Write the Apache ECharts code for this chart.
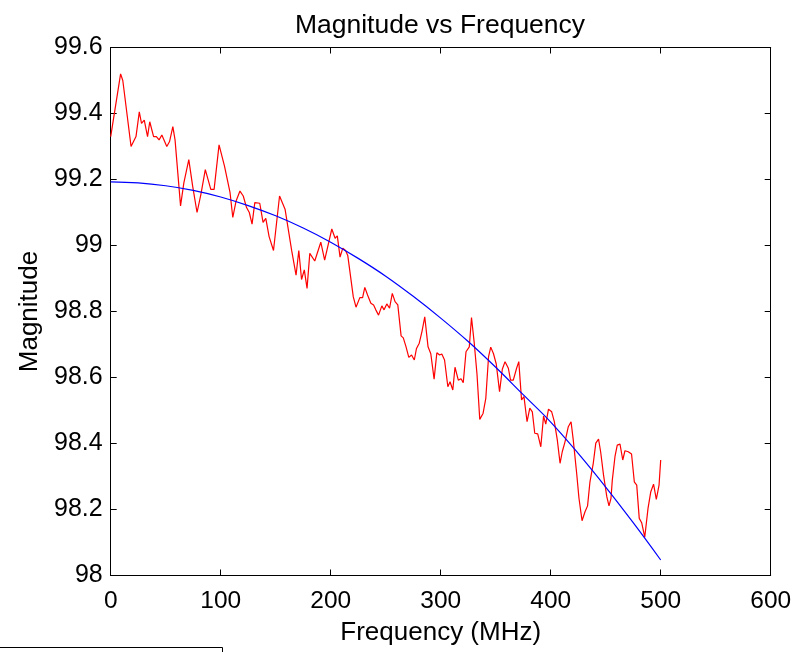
<!DOCTYPE html>
<html>
<head>
<meta charset="utf-8">
<script src="https://cdn.jsdelivr.net/npm/echarts@6/dist/echarts.min.js"></script>
<style>
html,body{margin:0;padding:0;background:#fff;}
#chart{width:807px;height:652px;}
</style>
</head>
<body>
<div id="chart"></div>
<script>
// Measured (red) series: frequency (MHz) and magnitude
const measFreq = [0,9,11,18.5,23,26,28,30.5,33.5,35.5,39,41.5,44,46.5,51,53.5,56.5,58.5,63.5,66.5,71,74.5,78.5,82,86,91,94,98.5,103.5,108.5,111,114,117.5,120.5,123.5,126,128.5,131,135.5,138.5,141,144,148,153.5,158.5,164.5,168.5,171,173.5,176,178.5,181,185.5,191,194.5,201,204,206,208.5,211,213.5,215.5,220.5,223,226.5,229,231,233.5,236.5,239,241,243.5,246.5,248.5,251,253.5,256,258.5,261,264,266,268.5,271,273.5,276,278,280.5,283,285.5,288.5,291,294,296.5,299,301,303.5,306.5,308.5,311,313,316,318.5,320.5,323,326,328,330.5,333,335.5,338.5,341,343.5,345.5,348,350.5,353.5,356,358.5,361.5,363.5,366,369,371,373.5,375.7,378.5,381,383.3,385.5,388.2,391,393.5,395.5,398,400.9,403.3,406,408.5,410.5,413,416,418.5,420.5,423.6,425.7,428.5,431.2,433.5,435.7,438.7,441,443.5,445.4,448,451,453,454.8,456,458.5,460.5,463,465.5,467.5,470.5,473.5,476,478.2,480.5,482.7,485.5,488.5,491,493.5,496,498.5,500];
const measMag = [99.33,99.52,99.50,99.30,99.33,99.405,99.37,99.38,99.33,99.375,99.33,99.33,99.32,99.335,99.30,99.315,99.36,99.32,99.12,99.19,99.26,99.18,99.10,99.155,99.23,99.17,99.17,99.305,99.24,99.16,99.085,99.135,99.165,99.15,99.115,99.10,99.065,99.13,99.128,99.07,99.082,99.027,98.985,99.15,99.11,98.985,98.91,98.985,98.897,98.926,98.87,98.976,98.953,99.01,98.956,99.05,99.022,99.029,98.965,98.992,98.985,98.97,98.845,98.813,98.842,98.842,98.873,98.85,98.825,98.82,98.805,98.789,98.817,98.805,98.823,98.81,98.855,98.83,98.82,98.726,98.72,98.693,98.661,98.668,98.653,98.688,98.704,98.74,98.784,98.693,98.672,98.595,98.675,98.668,98.671,98.653,98.572,98.587,98.562,98.631,98.592,98.596,98.584,98.678,98.693,98.782,98.704,98.61,98.473,98.491,98.537,98.663,98.692,98.672,98.641,98.557,98.625,98.648,98.628,98.592,98.592,98.628,98.648,98.532,98.542,98.466,98.507,98.496,98.431,98.429,98.39,98.483,98.459,98.504,98.496,98.466,98.411,98.34,98.375,98.405,98.451,98.466,98.411,98.31,98.234,98.166,98.193,98.211,98.284,98.34,98.401,98.413,98.375,98.305,98.239,98.211,98.234,98.289,98.362,98.395,98.398,98.35,98.378,98.375,98.368,98.284,98.274,98.173,98.16,98.116,98.204,98.254,98.277,98.231,98.274,98.35];
// Fitted (blue) curve
const fitFreq = [0,25,50,75,100,125,150,175,200,225,250,275,300,325,350,375,400,425,450,475,500];
const fitMag = [99.193,99.190,99.181,99.167,99.147,99.121,99.090,99.053,99.010,98.961,98.907,98.846,98.780,98.709,98.631,98.548,98.465,98.370,98.268,98.160,98.047];
// Tick labels
const xTickLabels = ['0','100','200','300','400','500','600'];
const yTickLabels = ['98','98.2','98.4','98.6','98.8','99','99.2','99.4','99.6'];
const titleText = 'Magnitude vs Frequency';
const xName = 'Frequency (MHz)';
const yName = 'Magnitude';

const FONT = 'Liberation Sans, Arial, Helvetica, sans-serif';
const chart = echarts.init(document.getElementById('chart'), null, {renderer: 'canvas'});

const xMin = 0, xMax = 600, xStep = 100;
const yMin = 98, yMax = 99.6, yStep = 0.2;

function xFmt(v){ const i = Math.round((v - xMin)/xStep); return xTickLabels[i] !== undefined ? xTickLabels[i] : ''; }
function yFmt(v){ const i = Math.round((v - yMin)/yStep); return yTickLabels[i] !== undefined ? yTickLabels[i] : ''; }

const axisLineStyle = {color: '#000', width: 1};
const option = {
  backgroundColor: '#fff',
  animation: false,
  title: {
    text: titleText,
    left: 435, textAlign: 'center',
    top: 7,
    textStyle: {fontFamily: FONT, fontSize: 26.5, fontWeight: 'normal', color: '#000'}
  },
  grid: {left: 110.7, right: 36.3, top: 47.5, bottom: 76.5, containLabel: false},
  xAxis: [{
    type: 'value', min: xMin, max: xMax, interval: xStep, position: 'bottom',
    name: xName, nameLocation: 'middle', nameGap: 44,
    nameTextStyle: {fontFamily: FONT, fontSize: 26, color: '#000'},
    axisLine: {show: true, onZero: false, lineStyle: axisLineStyle},
    axisTick: {show: true, inside: true, length: 6, lineStyle: axisLineStyle},
    axisLabel: {show: true, margin: 13, formatter: xFmt, fontFamily: FONT, fontSize: 24.5, color: '#000'},
    splitLine: {show: false}
  },{
    type: 'value', min: xMin, max: xMax, interval: xStep, position: 'top',
    axisLine: {show: true, onZero: false, lineStyle: axisLineStyle},
    axisTick: {show: true, inside: true, length: 6, lineStyle: axisLineStyle},
    axisLabel: {show: false}, splitLine: {show: false}
  }],
  yAxis: [{
    type: 'value', min: yMin, max: yMax, interval: yStep, position: 'left',
    name: yName, nameLocation: 'middle', nameGap: 67, nameRotate: 90,
    nameTextStyle: {fontFamily: FONT, fontSize: 26, color: '#000'},
    axisLine: {show: true, onZero: false, lineStyle: axisLineStyle},
    axisTick: {show: true, inside: true, length: 6, lineStyle: axisLineStyle},
    axisLabel: {show: true, margin: 8, formatter: yFmt, fontFamily: FONT, fontSize: 25, color: '#000'},
    splitLine: {show: false}
  },{
    type: 'value', min: yMin, max: yMax, interval: yStep, position: 'right',
    axisLine: {show: true, onZero: false, lineStyle: axisLineStyle},
    axisTick: {show: true, inside: true, length: 6, lineStyle: axisLineStyle},
    axisLabel: {show: false}, splitLine: {show: false}
  }],
  series: [{
    type: 'line', name: 'Measured', xAxisIndex: 0, yAxisIndex: 0,
    data: measFreq.map((f, i) => [f, measMag[i]]),
    showSymbol: false, symbol: 'none', smooth: false,
    lineStyle: {color: '#ff0000', width: 1.2}, z: 3
  },{
    type: 'line', name: 'Fit', xAxisIndex: 0, yAxisIndex: 0,
    data: fitFreq.map((f, i) => [f, fitMag[i]]),
    showSymbol: false, symbol: 'none', smooth: 0.4,
    lineStyle: {color: '#0000ff', width: 1.2}, z: 4
  }],
  graphic: [{
    type: 'rect', z: 10,
    shape: {x: -10.5, y: 647.5, width: 233, height: 30},
    style: {fill: '#fff', stroke: '#000', lineWidth: 1}
  }]
};
chart.setOption(option);
</script>
</body>
</html>
